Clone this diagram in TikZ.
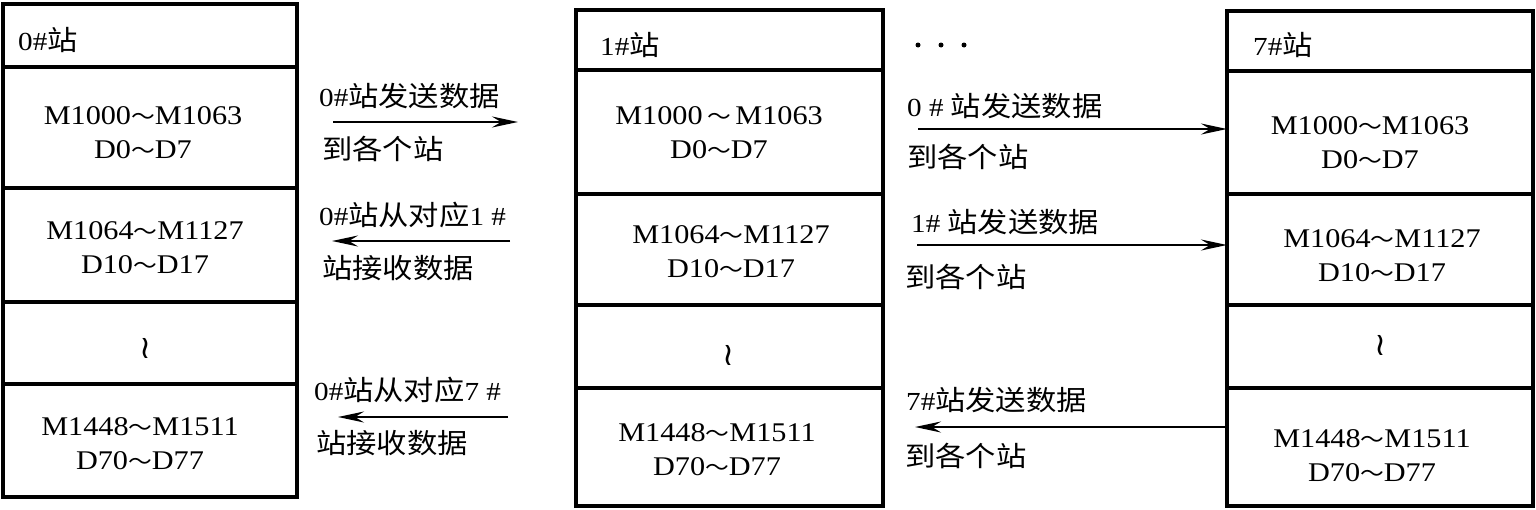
\documentclass[tikz,border=0pt]{standalone}
\usepackage{fontspec}
\setmainfont{Liberation Serif}[FakeStretch=1.12]
\newfontfamily\cjk{Noto Sans CJK SC}[FakeStretch=1.1,Scale=1.06]
\newfontfamily\cjktl{Noto Sans CJK SC}[FakeStretch=1.1,Scale=0.8]
\newfontfamily\dvs{DejaVu Sans}
\usetikzlibrary{arrows.meta}
\newcommand\zh[1]{{\cjk #1}}
\newcommand\tld{{\cjktl ～}}
\begin{document}
\begin{tikzpicture}[x=1pt,y=-1pt,
  cell/.style={draw,line width=3.6pt,rectangle,inner sep=0pt,outer sep=0pt},
  txt/.style={inner sep=0pt,align=center,font=\fontsize{27}{34}\selectfont},
  lbl/.style={inner sep=0pt,anchor=west,font=\fontsize{26}{30}\selectfont},
  wave/.style={inner sep=0pt,font=\dvs\fontsize{32}{36}\selectfont},
  arr/.style={line width=2.4pt,-{Stealth[length=26pt 0,width=11pt 0,inset=9pt 0]}},
  dot/.style={circle,fill,inner sep=0pt,minimum size=5pt}]
\useasboundingbox (0,0) rectangle (1536,509);
% ---- station 0 ----
\node[cell,minimum width=294,minimum height=63] (c0h) at (150,35.5) {};
\node[cell,minimum width=294,minimum height=121] (c0r1) at (150,127.5) {};
\node[cell,minimum width=294,minimum height=114] (c0r2) at (150,245) {};
\node[cell,minimum width=294,minimum height=82] (c0r3) at (150,343) {};
\node[cell,minimum width=294,minimum height=113] (c0r4) at (150,440.5) {};
\node[lbl] (t0h) at (18,40) {0\#\zh{站}};
\node[txt] (t0r1) at (143,133) {M1000\tld M1063\\D0\tld D7};
\node[txt] (t0r2) at (145,248) {M1064\tld M1127\\D10\tld D17};
\node[wave] (t0r3) at (145,348) {≀};
\node[txt] (t0r4) at (140,444) {M1448\tld M1511\\D70\tld D77};
% ---- station 1 ----
\node[cell,minimum width=307,minimum height=60] (c1h) at (729.5,40) {};
\node[cell,minimum width=307,minimum height=124] (c1r1) at (729.5,132) {};
\node[cell,minimum width=307,minimum height=111] (c1r2) at (729.5,249.5) {};
\node[cell,minimum width=307,minimum height=83] (c1r3) at (729.5,346.5) {};
\node[cell,minimum width=307,minimum height=118] (c1r4) at (729.5,447) {};
\node[lbl] (t1h) at (600,45) {1\#\zh{站}};
\node[txt] (t1r1) at (719,133) {M1000\,\tld\,M1063\\D0\tld D7};
\node[txt] (t1r2) at (731,252) {M1064\tld M1127\\D10\tld D17};
\node[wave] (t1r3) at (728,355) {≀};
\node[txt] (t1r4) at (717,450) {M1448\tld M1511\\D70\tld D77};
% ---- station 7 ----
\node[cell,minimum width=306,minimum height=60] (c7h) at (1380,41) {};
\node[cell,minimum width=306,minimum height=123] (c7r1) at (1380,132.5) {};
\node[cell,minimum width=306,minimum height=111] (c7r2) at (1380,249.5) {};
\node[cell,minimum width=306,minimum height=83] (c7r3) at (1380,346.5) {};
\node[cell,minimum width=306,minimum height=118] (c7r4) at (1380,447) {};
\node[lbl] (t7h) at (1253,45) {7\#\zh{站}};
\node[txt] (t7r1) at (1370,143) {M1000\tld M1063\\D0\tld D7};
\node[txt] (t7r2) at (1382,256) {M1064\tld M1127\\D10\tld D17};
\node[wave] (t7r3) at (1380,345) {≀};
\node[txt] (t7r4) at (1372,456) {M1448\tld M1511\\D70\tld D77};
% ---- left column arrows ----
\coordinate (a1s) at (333,122);
\coordinate (a1e) at (518,122);
\draw[arr] (a1s) -- (a1e);
\node[lbl] (l1a) at (319,96) {0\#\zh{站发送数据}};
\node[lbl] (l1b) at (322,149) {\zh{到各个站}};
\coordinate (a2s) at (510,241);
\coordinate (a2e) at (332,241);
\draw[arr] (a2s) -- (a2e);
\node[lbl] (l2a) at (319,215) {0\#\zh{站从对应}1 \#};
\node[lbl] (l2b) at (322,268) {\zh{站接收数据}};
\coordinate (a3s) at (508,417);
\coordinate (a3e) at (338,417);
\draw[arr] (a3s) -- (a3e);
\node[lbl] (l3a) at (314,390) {0\#\zh{站从对应}7 \#};
\node[lbl] (l3b) at (316,443) {\zh{站接收数据}};
% ---- right column arrows ----
\node[dot] (d1) at (918,45) {};
\node[dot] (d2) at (941,45) {};
\node[dot] (d3) at (964,45) {};
\coordinate (aAs) at (918,129);
\draw[arr] (aAs) -- (aAs -| c7r1.west);
\node[lbl] (lAa) at (907,106) {0 \# \zh{站发送数据}};
\node[lbl] (lAb) at (907,157) {\zh{到各个站}};
\coordinate (aBs) at (917,245);
\draw[arr] (aBs) -- (aBs -| c7r2.west);
\node[lbl] (lBa) at (911,222) {1\# \zh{站发送数据}};
\node[lbl] (lBb) at (905,277) {\zh{到各个站}};
\coordinate (aCe) at (915,427);
\draw[arr] (aCe -| c7r4.west) -- (aCe);
\node[lbl] (lCa) at (906,400) {7\#\zh{站发送数据}};
\node[lbl] (lCb) at (905,456) {\zh{到各个站}};
\end{tikzpicture}
\end{document}
